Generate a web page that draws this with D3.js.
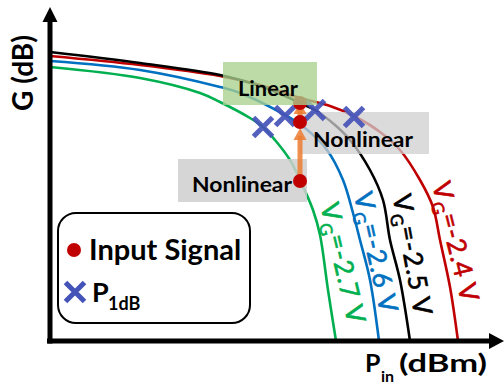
<!DOCTYPE html>
<html><head><meta charset="utf-8">
<script src="https://cdn.jsdelivr.net/npm/d3@7/dist/d3.min.js"></script>
<style>
html,body{margin:0;padding:0;background:#fff;}
svg{display:block;font-family:Lato,"Open Sans",sans-serif;}
</style></head>
<body><svg id="c" width="504" height="386"></svg>
<script>
// Curves: [Pin, G] in arbitrary units
const curveVg24 = [[0,71.25],[22.5,69],[42.5,66.25],[52.5,64],[62.5,60.75],[70,58.75],[76,56.25],[82.5,52.25],[87.5,47.75],[92.5,40.25],[95.75,33.5],[97.5,25.25],[100,13.5],[102,0]];
const curveVg25 = [[0,72.25],[22.5,69.5],[42.5,66.5],[52.5,63.75],[58.25,61.5],[62.5,59.5],[66.25,57.75],[71.25,54],[75,50.25],[80,42.75],[83.25,35.25],[85,25.25],[87.5,15.25],[90,0]];
const curveVg26 = [[0,70],[22.5,67.75],[42.5,63.5],[47.5,62],[58.75,56.5],[63.75,53.25],[69.25,47.75],[73.25,40.25],[75.75,32],[77.5,25.25],[80,15.25],[82.25,0]];
const curveVg27 = [[0,68.5],[22.5,65.75],[37.5,62],[42.5,59.75],[50,55.75],[53.25,53.5],[56.25,50.25],[60,45.25],[62.5,40.25],[65.75,32.75],[67.5,26.5],[69.5,12.75],[71.5,0]];
const seriesNames = ["-2.4","-2.5","-2.6","-2.7"];
const p1dbPoints = [[53.25,53.5],[58.75,56.25],[66.25,57.75],[76,56]];
const inputSignal = [[62.5,40],[62.5,54.75],[62.5,59.5]];
const xLabel = "P", xLabelSub = "in", xLabelUnit = "(dBm)";
const yLabel = "G (dB)";

const svg = d3.select("#c");
const x = d3.scaleLinear().domain([0,110]).range([50,490]);
const y = d3.scaleLinear().domain([0,80]).range([341,21]);

const colors = ["#c00000","#000000","#0070c0","#00b050"];
const curves = [curveVg24, curveVg25, curveVg26, curveVg27];

// Curves
const line = d3.line().x(d=>x(d[0])).y(d=>y(d[1])).curve(d3.curveCatmullRom.alpha(0.5));
const drawOrder = [3,2,0,1];
drawOrder.forEach(i=>{
  svg.append("path").attr("d", line(curves[i])).attr("fill","none")
    .attr("stroke", colors[i]).attr("stroke-width",2.6);
});

// Axes
const gx = svg.append("g").attr("transform",`translate(0,${y(0)})`)
  .call(d3.axisBottom(x).tickValues([]).tickSizeOuter(0));
gx.select(".domain").attr("stroke","#000").attr("stroke-width",5).attr("d",`M${x(0)-3},0H${x(110)}`);
const gy = svg.append("g").attr("transform",`translate(${x(0)},0)`)
  .call(d3.axisLeft(y).tickValues([]).tickSizeOuter(0));
gy.select(".domain").attr("stroke","#000").attr("stroke-width",5).attr("d",`M0,${y(0)+2.5}V${y(80)}`);
// Arrowheads
svg.append("path").attr("d",`M${x(0)-7.5},${y(80)+1}L${x(0)},${y(80)-14}L${x(0)+7.5},${y(80)+1}Z`).attr("fill","#000");
svg.append("path").attr("d",`M${x(110)-1},${y(0)-8}L${x(110)+14},${y(0)}L${x(110)-1},${y(0)+8}Z`).attr("fill","#000");

// Axis labels
svg.append("text").attr("transform",`translate(33,${y(67)}) rotate(-90)`)
  .attr("text-anchor","middle").attr("font-weight","bold").attr("font-size",28).text(yLabel);
svg.append("text").attr("x",365).attr("y",372).attr("font-weight","bold").attr("font-size",25).text(xLabel);
svg.append("text").attr("x",381).attr("y",382).attr("font-weight","bold").attr("font-size",16).text(xLabelSub);
svg.append("text").attr("x",399).attr("y",372).attr("font-weight","bold").attr("font-size",25)
  .attr("textLength",88).attr("lengthAdjust","spacingAndGlyphs").text(xLabelUnit);

// Gray "Nonlinear" boxes (translucent, over curves)
function box(x0,y0,w,h,fill,op){
  svg.append("rect").attr("x",x0).attr("y",y0).attr("width",w).attr("height",h).attr("fill",fill).attr("opacity",op);
}
box(x(62.5),y(57.25),129,42,"#cfcfcf",0.75);
box(x(32),y(45.5),129,43,"#cfcfcf",0.85);

// P1dB markers
const xs = 9.5;
svg.append("g").selectAll("path").data(p1dbPoints).join("path")
  .attr("d",d=>`M${x(d[0])-xs},${y(d[1])-xs}L${x(d[0])+xs},${y(d[1])+xs}M${x(d[0])-xs},${y(d[1])+xs}L${x(d[0])+xs},${y(d[1])-xs}`)
  .attr("stroke","#4453b8").attr("stroke-width",5).attr("fill","none").attr("opacity",0.92);

// Orange arrows
const orange = "#ed7d31";
function arrow(x0,y0,y1){
  svg.append("line").attr("x1",x0).attr("x2",x0).attr("y1",y0).attr("y2",y1+8)
    .attr("stroke",orange).attr("stroke-width",5).attr("opacity",0.85);
  svg.append("path").attr("d",`M${x0-6.5},${y1+12}L${x0},${y1}L${x0+6.5},${y1+12}Z`).attr("fill",orange).attr("opacity",0.85);
}
arrow(x(inputSignal[0][0]), y(inputSignal[0][1]), y(inputSignal[1][1])+6);
arrow(x(inputSignal[1][0]), y(inputSignal[1][1]), y(inputSignal[2][1])-1);

// Input signal dots
svg.append("g").selectAll("circle").data(inputSignal).join("circle")
  .attr("cx",d=>x(d[0])).attr("cy",d=>y(d[1])).attr("r",7).attr("fill","#c00000");

// Linear box (translucent green)
box(x(43.25),y(69.75),94,43,"#a9d18e",0.78);

// Region texts
svg.append("text").attr("x",x(54.5)).attr("y",y(61.25)).attr("text-anchor","middle")
  .attr("font-weight","bold").attr("font-size",21).attr("textLength",60).attr("lengthAdjust","spacingAndGlyphs").text("Linear");
svg.append("text").attr("x",x(65.75)).attr("y",y(48.5))
  .attr("font-weight","bold").attr("font-size",21).attr("textLength",100).attr("lengthAdjust","spacingAndGlyphs").text("Nonlinear");
svg.append("text").attr("x",x(35.5)).attr("y",y(37.25))
  .attr("font-weight","bold").attr("font-size",21).attr("textLength",100).attr("lengthAdjust","spacingAndGlyphs").text("Nonlinear");

// Rotated VG labels
const labelPos = [[101.4,24.75,76],[90.6,21.5,79.6],[81.5,22.1,77.5],[73.25,19.4,76.9]];
labelPos.forEach((p,i)=>{
  const t = svg.append("text")
    .attr("transform",`translate(${x(p[0])},${y(p[1])}) rotate(${p[2]})`)
    .attr("y",9).attr("text-anchor","middle").attr("fill",colors[i])
    .attr("stroke",colors[i]).attr("stroke-width",0.6)
    .attr("font-size",26).attr("letter-spacing",1);
  t.append("tspan").text("V");
  t.append("tspan").attr("font-size",17).attr("dy",6).text("G");
  t.append("tspan").attr("dy",-6).text("=" + seriesNames[i] + " V");
});

// Legend
svg.append("rect").attr("x",58).attr("y",213).attr("width",192).attr("height",110).attr("rx",18)
  .attr("fill","#fff").attr("stroke","#000").attr("stroke-width",2);
svg.append("circle").attr("cx",74).attr("cy",250).attr("r",7).attr("fill","#c00000");
svg.append("text").attr("x",89).attr("y",260).attr("font-weight","bold").attr("font-size",29).text("Input Signal");
const lx=75, ly=292;
svg.append("path").attr("d",`M${lx-xs},${ly-xs}L${lx+xs},${ly+xs}M${lx-xs},${ly+xs}L${lx+xs},${ly-xs}`)
  .attr("stroke","#4453b8").attr("stroke-width",5);
svg.append("text").attr("x",92).attr("y",302).attr("font-weight","bold").attr("font-size",27).text("P");
svg.append("text").attr("x",108).attr("y",310).attr("font-weight","bold").attr("font-size",18).text("1dB");
</script></body></html>
